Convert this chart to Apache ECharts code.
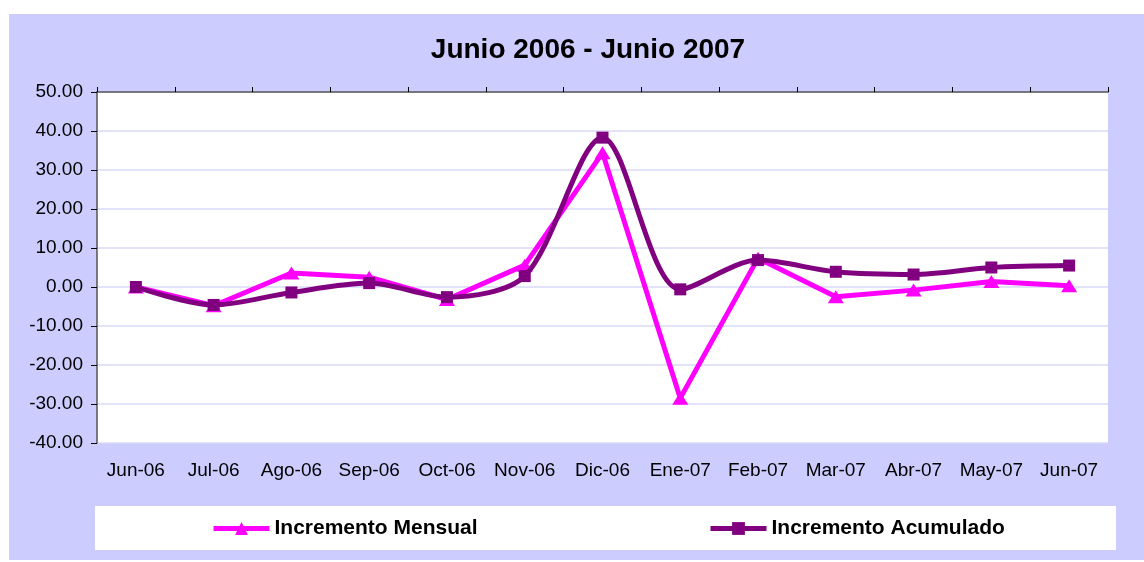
<!DOCTYPE html>
<html>
<head>
<meta charset="utf-8">
<script src="https://cdn.jsdelivr.net/npm/echarts@6/dist/echarts.min.js"></script>
<style>
  html, body { margin: 0; padding: 0; background: #fff; }
  #chart { width: 1144px; height: 562px; }
</style>
</head>
<body>
<div id="chart"></div>
<script>
const months = ['Jun-06', 'Jul-06', 'Ago-06', 'Sep-06', 'Oct-06', 'Nov-06', 'Dic-06',
  'Ene-07', 'Feb-07', 'Mar-07', 'Abr-07', 'May-07', 'Jun-07']
const mensual = [0.0, -4.8, 3.6, 2.5, -3.2, 5.6, 34.4, -28.5, 7.4, -2.5, -0.8, 1.4, 0.3]
const acumulado = [0.0, -4.6, -1.4, 1.0, -2.6, 2.8, 38.3, -0.6, 6.9, 3.9, 3.2, 5.0, 5.5]

const font = 'Liberation Sans, Arial, sans-serif'

let chart = echarts.init(document.getElementById('chart'))

let legendText = { fontFamily: font, fontSize: 21, fontWeight: 'bold', color: '#000' }

let option = {
  animation: false,
  backgroundColor: '#ffffff',
  graphic: [
    {
      type: 'rect',
      z: -10,
      shape: { x: 9, y: 14, width: 1135, height: 546 },
      style: { fill: '#CCCCFF' }
    },
    {
      type: 'rect',
      z: -9,
      shape: { x: 95, y: 506, width: 1021, height: 44 },
      style: { fill: '#ffffff' }
    }
  ],
  title: {
    text: 'Junio 2006 - Junio 2007',
    left: 583,
    textAlign: 'center',
    top: 31,
    textStyle: { fontFamily: font, fontSize: 28, fontWeight: 'bold', color: '#000' }
  },
  legend: [
    {
      data: ['Incremento Mensual'],
      left: 211,
      top: 518,
      padding: 0,
      itemWidth: 56,
      itemHeight: 16,
      lineStyle: { width: 5 },
      textStyle: legendText
    },
    {
      data: ['Incremento Acumulado'],
      left: 708,
      top: 518,
      padding: 0,
      itemWidth: 56,
      itemHeight: 16,
      lineStyle: { width: 5 },
      textStyle: legendText
    }
  ],
  grid: {
    left: 97,
    right: 36,
    top: 92,
    bottom: 119,
    show: true,
    backgroundColor: '#ffffff',
    borderWidth: 0
  },
  xAxis: [
    {
      type: 'category',
      data: months,
      position: 'top',
      boundaryGap: true,
      axisLine: { onZero: false, lineStyle: { color: '#555', width: 1.5 } },
      axisTick: { show: true, length: 5, lineStyle: { color: '#000' } },
      axisLabel: { show: false },
      splitLine: { show: false }
    },
    {
      type: 'category',
      data: months,
      position: 'bottom',
      boundaryGap: true,
      axisLine: { show: false, onZero: false },
      axisTick: { show: false },
      axisLabel: {
        interval: 0,
        margin: 18,
        fontFamily: font,
        fontSize: 19,
        color: '#000'
      }
    }
  ],
  yAxis: {
    type: 'value',
    min: -40,
    max: 50,
    interval: 10,
    axisLine: { show: true, lineStyle: { color: '#555', width: 1.5 } },
    axisTick: { show: true, length: 6, lineStyle: { color: '#000' } },
    axisLabel: {
      margin: 14,
      fontFamily: font,
      fontSize: 19,
      color: '#000',
      formatter: v => v.toFixed(2)
    },
    splitLine: { lineStyle: { color: '#D8D8F6', width: 1.5 } }
  },
  series: [
    {
      name: 'Incremento Mensual',
      type: 'line',
      data: mensual,
      xAxisIndex: 0,
      color: '#FF00FF',
      symbol: 'triangle',
      symbolSize: [16, 13],
      lineStyle: { width: 5 },
      z: 2
    },
    {
      name: 'Incremento Acumulado',
      type: 'line',
      data: acumulado,
      xAxisIndex: 0,
      color: '#800080',
      symbol: 'rect',
      symbolSize: 12,
      smooth: 0.3,
      lineStyle: { width: 5 },
      z: 3
    }
  ]
}

chart.setOption(option)
</script>
</body>
</html>
